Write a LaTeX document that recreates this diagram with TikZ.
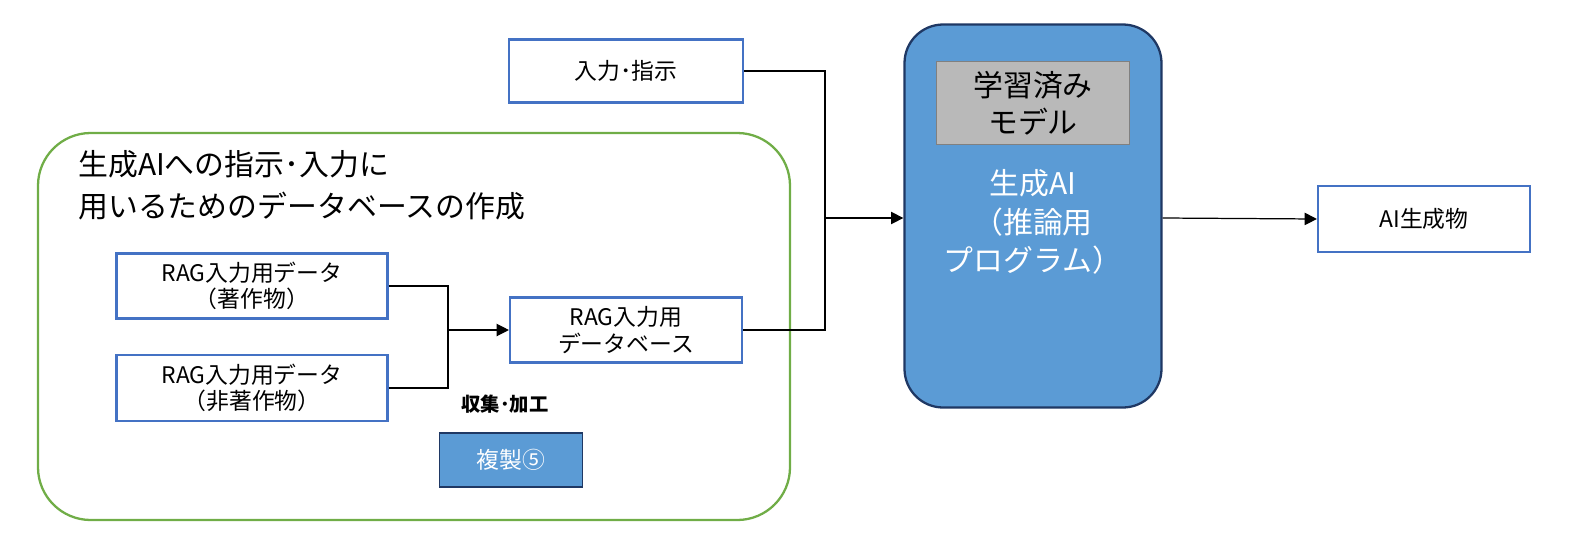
\documentclass[tikz,border=0pt]{standalone}
\usepackage{fontspec}
\setmainfont{Noto Sans CJK JP}
\usetikzlibrary{arrows.meta}
\definecolor{bbd}{HTML}{4472C4}
\definecolor{fillb}{HTML}{5B9BD5}
\definecolor{dk}{HTML}{1F3864}
\definecolor{gr}{HTML}{70AD47}
\begin{document}
\begin{tikzpicture}[x=0.02cm,y=-0.02cm,
 box/.style={draw=bbd,line width=1.2pt,fill=white,align=center,font=\fontsize{13}{15}\selectfont},
 con/.style={draw=black,line width=0.7pt},
 arr/.style={con,-{Triangle[length=7pt,width=7pt]}}]
\useasboundingbox (0,0) rectangle (1579,555);
\draw[gr,line width=1.3pt,rounded corners=30] (38,133) rectangle (790,520);
\node[anchor=north west,align=left,font=\fontsize{17}{24}\selectfont,inner sep=0] (t) at (78,150) {生成AIへの指示･入力に\\用いるためのデータベースの作成};
\node[box,minimum width=234*0.02cm,minimum height=63*0.02cm] (in) at (626,71) {入力･指示};
\node[box,minimum width=271*0.02cm,minimum height=65*0.02cm] (d1) at (252,286) {RAG入力用データ\\（著作物）};
\node[box,minimum width=271*0.02cm,minimum height=66*0.02cm] (d2) at (252,388) {RAG入力用データ\\（非著作物）};
\node[box,minimum width=232*0.02cm,minimum height=65*0.02cm] (db) at (626,330) {RAG入力用\\データベース};
\node[font=\bfseries\fontsize{11}{13}\selectfont] (k) at (505,404) {収集･加工};
\node[draw=dk,line width=1pt,fill=fillb,text=white,minimum width=143*0.02cm,minimum height=54*0.02cm,font=\fontsize{13}{15}\selectfont] (f) at (511,460) {複製⑤};
\node[draw=dk,line width=1.3pt,fill=fillb,rounded corners=22,minimum width=257*0.02cm,minimum height=383*0.02cm] (ai) at (1033,216) {};
\node[draw=gray,fill=lightgray!90!gray,minimum width=193*0.02cm,minimum height=83*0.02cm,align=center,font=\fontsize{17}{21}\selectfont] (m) at (1033,103) {学習済み\\モデル};
\node[text=white,align=center,font=\fontsize{17}{22}\selectfont] (g) at (1033,222) {生成AI\\（推論用\\プログラム）};
\node[box,minimum width=212*0.02cm,minimum height=66*0.02cm] (out) at (1424,219) {AI生成物};
\coordinate (j1) at (448,330);
\coordinate (j2) at (825,218);
\draw[con] (d1.east) -| (j1);
\draw[con] (d2.east) -| (j1);
\draw[arr] (j1) -- (db.west);
\draw[con] (in.east) -| (j2);
\draw[con] (db.east) -| (j2);
\draw[arr] (j2) -- (ai.west|-j2);
\draw[arr] (ai.east|-j2) -- (out.west);
\end{tikzpicture}
\end{document}
